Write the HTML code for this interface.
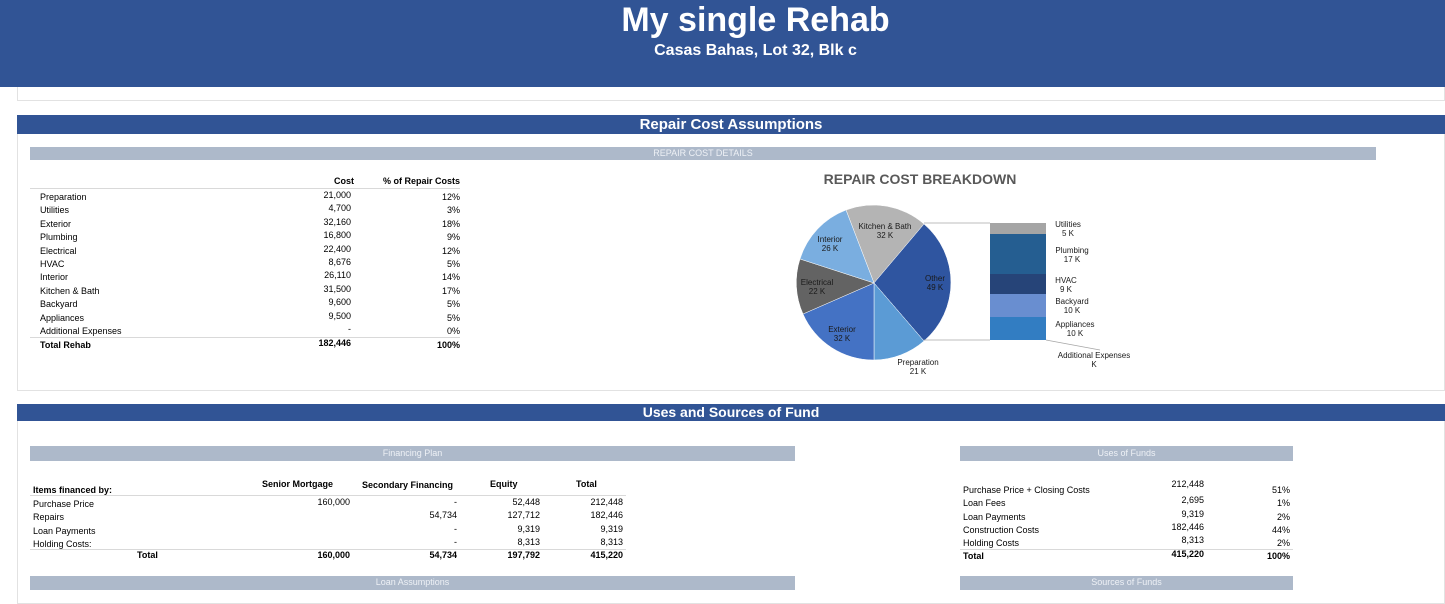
<!DOCTYPE html>
<html><head><meta charset="utf-8"><style>
*{margin:0;padding:0;box-sizing:border-box}
body{width:1445px;height:596px;overflow:hidden;background:#fff;position:relative;font-family:"Liberation Sans",Arial,sans-serif;color:#000}
.a{position:absolute;white-space:nowrap;font-size:9px;line-height:11px}
.r{text-align:right}
.b{font-weight:bold}
.bar{position:absolute;background:#adb9ca;color:#eef1f6;font-size:9px;text-align:center;line-height:13px}
.blue{position:absolute;background:#315495;color:#fff;font-weight:bold;text-align:center}
.ln{position:absolute;height:1px;background:#d9d9d9}
</style></head><body>
<div class="blue" style="left:0;top:0;width:1445px;height:87px;padding-left:66px">
<div style="font-size:34px;line-height:38px;padding-top:1px">My single Rehab</div>
<div style="font-size:16px;line-height:20px;margin-top:2px">Casas Bahas, Lot 32, Blk c</div>
</div>
<div style="position:absolute;left:17px;top:87px;width:1428px;height:14px;border:1px solid #e2e2e2;border-top:none"></div>

<div style="position:absolute;left:17px;top:115px;width:1428px;height:276px;border:1px solid #e2e2e2"></div>
<div class="blue" style="left:17px;top:115px;width:1428px;height:19px;font-size:15px;line-height:20px">Repair Cost Assumptions</div>
<div class="bar" style="left:30px;top:147px;width:1346px;height:13px">REPAIR COST DETAILS</div>

<div class="a b r" style="left:300px;top:176px;width:54px">Cost</div>
<div class="a b r" style="left:360px;top:176px;width:100px">% of Repair Costs</div>
<div class="ln" style="left:30px;top:188px;width:430px"></div>
<div class="ln" style="left:30px;top:337px;width:430px"></div>
<div id="rc"></div>

<svg style="position:absolute;left:0;top:0" width="1445" height="596">
<text x="920" y="184" font-family="Liberation Sans,Arial,sans-serif" font-size="14" font-weight="bold" fill="#595959" text-anchor="middle">REPAIR COST BREAKDOWN</text>
<g stroke="#fff" stroke-width="0.5">
<path d="M874 283 L846 210 A77 77 0 0 1 924 224 Z" fill="#b4b4b4"/>
<path d="M874 283 L924 224 A77 77 0 0 1 924 341 Z" fill="#2f55a0"/>
<path d="M874 283 L924 341 A77 77 0 0 1 874 360 Z" fill="#5b9bd5"/>
<path d="M874 283 L874 360 A77 77 0 0 1 803 314 Z" fill="#4472c4"/>
<path d="M874 283 L803 314 A77 77 0 0 1 800 259 Z" fill="#636363"/>
<path d="M874 283 L800 259 A77 77 0 0 1 846 210 Z" fill="#7aaee0"/>
</g>
<g stroke="#a6a6a6" stroke-width="0.8" fill="none">
<line x1="924" y1="223" x2="990" y2="223"/>
<line x1="924" y1="340" x2="990" y2="340"/>
<line x1="1046" y1="340" x2="1100" y2="350"/>
</g>
<rect x="990" y="223" width="56" height="11" fill="#a5a5a5"/>
<rect x="990" y="234" width="56" height="40" fill="#255e91"/>
<rect x="990" y="274" width="56" height="20" fill="#264478"/>
<rect x="990" y="294" width="56" height="23" fill="#698ed0"/>
<rect x="990" y="317" width="56" height="23" fill="#327dc2"/>
<g font-family="Liberation Sans,Arial,sans-serif" font-size="8" fill="#1a1a1a" text-anchor="middle">
<text x="885" y="229">Kitchen &amp; Bath</text><text x="885" y="238">32 K</text>
<text x="830" y="242">Interior</text><text x="830" y="251">26 K</text>
<text x="817" y="285">Electrical</text><text x="817" y="294">22 K</text>
<text x="935" y="281">Other</text><text x="935" y="290">49 K</text>
<text x="842" y="332">Exterior</text><text x="842" y="341">32 K</text>
<text x="918" y="365">Preparation</text><text x="918" y="374">21 K</text>
<text x="1068" y="227">Utilities</text><text x="1068" y="236">5 K</text>
<text x="1072" y="253">Plumbing</text><text x="1072" y="262">17 K</text>
<text x="1066" y="283">HVAC</text><text x="1066" y="292">9 K</text>
<text x="1072" y="304">Backyard</text><text x="1072" y="313">10 K</text>
<text x="1075" y="327">Appliances</text><text x="1075" y="336">10 K</text>
<text x="1094" y="358">Additional Expenses</text><text x="1094" y="367">K</text>
</g>
</svg>

<div style="position:absolute;left:17px;top:404px;width:1428px;height:200px;border:1px solid #e2e2e2"></div>
<div class="blue" style="left:17px;top:404px;width:1428px;height:17px;font-size:14px;line-height:17px">Uses and Sources of Fund</div>
<div class="bar" style="left:30px;top:446px;width:765px;height:15px;line-height:15px">Financing Plan</div>
<div class="bar" style="left:30px;top:576px;width:765px;height:14px">Loan Assumptions</div>
<div class="bar" style="left:960px;top:446px;width:333px;height:15px;line-height:15px">Uses of Funds</div>
<div class="bar" style="left:960px;top:576px;width:333px;height:14px">Sources of Funds</div>

<div class="a b" style="left:33px;top:485px">Items financed by:</div>
<div class="a b" style="left:262px;top:479px">Senior Mortgage</div>
<div class="a b" style="left:362px;top:480px">Secondary Financing</div>
<div class="a b" style="left:490px;top:479px">Equity</div>
<div class="a b" style="left:576px;top:479px">Total</div>
<div class="ln" style="left:30px;top:495px;width:596px"></div>
<div class="ln" style="left:30px;top:549px;width:596px"></div>
<div id="fp"></div>
<div class="ln" style="left:960px;top:549px;width:333px"></div>
<div id="uf"></div>

<script>
function put(id,html){document.getElementById(id).innerHTML=html}
var rows=[["Preparation","21,000","12%"],["Utilities","4,700","3%"],["Exterior","32,160","18%"],["Plumbing","16,800","9%"],["Electrical","22,400","12%"],["HVAC","8,676","5%"],["Interior","26,110","14%"],["Kitchen & Bath","31,500","17%"],["Backyard","9,600","5%"],["Appliances","9,500","5%"],["Additional Expenses","-","0%"]];
var h="";rows.forEach(function(r,i){var y=191+i*13.4;
h+='<div class="a" style="left:40px;top:'+(y+1)+'px">'+r[0]+'</div><div class="a r" style="left:280px;width:71px;top:'+(y-1)+'px">'+r[1]+'</div><div class="a r" style="left:380px;width:80px;top:'+(y+1)+'px">'+r[2]+'</div>';});
h+='<div class="a b" style="left:40px;top:340px">Total Rehab</div><div class="a b r" style="left:280px;width:71px;top:338px">182,446</div><div class="a b r" style="left:380px;width:80px;top:340px">100%</div>';
put("rc",h);
var f=[["Purchase Price","160,000","-","52,448","212,448"],["Repairs","","54,734","127,712","182,446"],["Loan Payments","","-","9,319","9,319"],["Holding Costs:","","-","8,313","8,313"]];
h="";f.forEach(function(r,i){var y=498+i*13.3;
h+='<div class="a" style="left:33px;top:'+(y+1)+'px">'+r[0]+'</div>';
[[350,r[1]],[457,r[2]],[540,r[3]],[623,r[4]]].forEach(function(c){h+='<div class="a r" style="left:'+(c[0]-80)+'px;width:80px;top:'+(y-1)+'px">'+c[1]+'</div>'});});
h+='<div class="a b" style="left:137px;top:550px">Total</div>';
[[350,"160,000"],[457,"54,734"],[540,"197,792"],[623,"415,220"]].forEach(function(c){h+='<div class="a b r" style="left:'+(c[0]-80)+'px;width:80px;top:550px">'+c[1]+'</div>'});
put("fp",h);
var u=[["Purchase Price + Closing Costs","212,448","51%"],["Loan Fees","2,695","1%"],["Loan Payments","9,319","2%"],["Construction Costs","182,446","44%"],["Holding Costs","8,313","2%"]];
h="";u.forEach(function(r,i){var y=485+i*13.3;
h+='<div class="a" style="left:963px;top:'+y+'px">'+r[0]+'</div><div class="a r" style="left:1124px;width:80px;top:'+(i==0?y-6:y-3)+'px">'+r[1]+'</div><div class="a r" style="left:1210px;width:80px;top:'+y+'px">'+r[2]+'</div>';});
h+='<div class="a b" style="left:963px;top:551px">Total</div><div class="a b r" style="left:1124px;width:80px;top:549px">415,220</div><div class="a b r" style="left:1210px;width:80px;top:551px">100%</div>';
put("uf",h);
</script>
</body></html>
